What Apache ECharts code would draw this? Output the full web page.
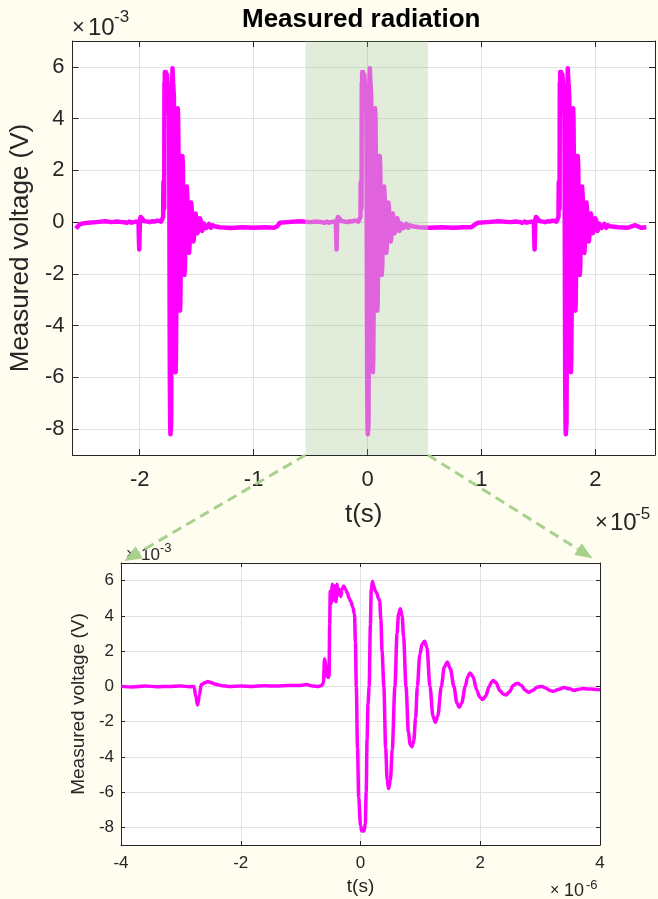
<!DOCTYPE html>
<html>
<head>
<meta charset="utf-8">
<script src="https://cdn.jsdelivr.net/npm/echarts@6/dist/echarts.min.js"></script>
<style>
html,body{margin:0;padding:0;background:#fefdf0;}
#chart{width:658px;height:899px;}
</style>
</head>
<body>
<div id="chart"></div>
<script>
// ---------- DATA ----------
// One burst, time relative to burst centre (microseconds), voltage in mV (x10^-3 V)
const burstT = [-4.0,-3.8,-3.6,-3.4,-3.2,-3.0,-2.85,-2.78,-2.75,-2.72,-2.69,-2.66,-2.6,-2.55,-2.5,-2.42,-2.32,-2.2,-2.0,-1.8,-1.6,-1.4,-1.2,-1.0,-0.9,-0.8,-0.7,-0.65,-0.62,-0.6,-0.58,-0.57,-0.555,-0.54,-0.525,-0.515,-0.505,-0.49,-0.47,-0.45,-0.43,-0.41,-0.39,-0.37,-0.35,-0.33,-0.31,-0.28,-0.25,-0.22,-0.19,-0.16,-0.13,-0.1,-0.085,-0.07,-0.05,-0.03,0.0,0.02,0.06,0.08,0.095,0.11,0.125,0.145,0.165,0.18,0.20,0.22,0.25,0.27,0.30,0.32,0.34,0.36,0.39,0.42,0.445,0.47,0.50,0.53,0.575,0.61,0.635,0.665,0.695,0.72,0.76,0.80,0.83,0.86,0.89,0.92,0.95,0.99,1.03,1.07,1.11,1.16,1.21,1.25,1.29,1.35,1.40,1.45,1.50,1.56,1.61,1.65,1.69,1.75,1.79,1.83,1.88,1.94,1.99,2.04,2.09,2.15,2.19,2.22,2.26,2.33,2.38,2.43,2.49,2.55,2.60,2.63,2.68,2.75,2.81,2.88,2.95,3.03,3.10,3.16,3.22,3.30,3.40,3.49,3.57,3.65,3.72,3.79,3.90,4.0];
const burstV = [0.0,-0.03,0.02,-0.02,0.0,0.02,-0.02,0.0,-0.6,-1.06,-0.5,0.1,0.2,0.27,0.22,0.12,0.04,0.0,0.02,0.0,0.03,0.02,0.05,0.05,0.1,0.02,0.0,0.05,0.2,1.55,1.2,0.6,1.1,0.5,0.6,3.5,5.4,4.7,5.8,4.9,5.7,4.8,5.8,5.2,5.5,5.1,5.5,5.7,5.5,5.3,5.0,4.8,4.5,4.1,2.5,0.0,-3.5,-6.3,-7.9,-8.2,-8.2,-7.8,-6.0,-3.0,-1.0,0.0,3.5,5.5,5.95,5.7,5.4,5.3,5.0,4.85,3.8,2.0,0.0,-3.5,-5.3,-5.8,-5.3,-3.6,0.0,3.0,4.1,4.4,4.0,2.8,0.0,-2.6,-3.3,-3.42,-3.1,-1.8,0.0,1.8,2.4,2.56,2.2,0.0,-1.7,-2.04,-1.7,0.0,1.1,1.38,1.0,0.0,-0.95,-1.19,-0.95,0.0,0.55,0.76,0.55,-0.2,-0.6,-0.75,-0.55,0.0,0.25,0.33,0.22,-0.25,-0.43,-0.49,-0.3,0.05,0.15,0.17,0.07,-0.22,-0.34,-0.22,-0.05,0.0,-0.1,-0.23,-0.28,-0.18,-0.07,-0.14,-0.22,-0.16,-0.12,-0.15,-0.16,-0.19];

// Burst centres on the long record (x10^-5 s)
const burstCenters = [-1.732, 0, 1.738];

// Baseline stretches between bursts (time x10^-5 s, voltage mV)
const gap0T = [-2.56,-2.545,-2.53,-2.5,-2.45,-2.38,-2.3,-2.25,-2.2,-2.15];
const gap0V = [-0.25,-0.18,-0.1,-0.05,-0.02,0.0,0.03,0.0,0.02,0.0];
const gap1T = [-1.3,-1.2,-1.1,-1.0,-0.9,-0.82,-0.79,-0.77,-0.7,-0.6,-0.5,-0.45];
const gap1V = [-0.2,-0.23,-0.2,-0.22,-0.2,-0.22,-0.15,-0.02,0.0,0.03,0.0,0.02];
const gap2T = [0.45,0.55,0.65,0.75,0.85,0.91,0.94,0.97,1.05,1.15,1.25,1.3];
const gap2V = [-0.2,-0.22,-0.2,-0.22,-0.2,-0.2,-0.1,-0.02,0.0,0.03,0.0,0.02];
const gap3T = [2.2,2.28,2.35,2.4,2.447];
const gap3V = [-0.2,-0.22,-0.12,-0.22,-0.2];

// Highlighted window on the long record (x10^-5 s)
const shadeRange = [-0.545, 0.53];

// Axis limits / ticks
const topXRange = [-2.59, 2.523];
const topXTicks = [-2, -1, 0, 1, 2];
const yRange = [-9, 7];
const yTicks = [-8, -6, -4, -2, 0, 2, 4, 6];
const botXRange = [-4, 4];
const botXTicks = [-4, -2, 0, 2, 4];

// ---------- BUILD ----------
function zip(t, v) { return t.map((x, i) => [x, v[i]]); }
const gaps = [zip(gap0T, gap0V), zip(gap1T, gap1V), zip(gap2T, gap2V), zip(gap3T, gap3V)];
let topData = [].concat(gaps[0]);
burstCenters.forEach((c, i) => {
  topData = topData.concat(burstT.map((t, j) => [c + t / 10, burstV[j]]));
  topData = topData.concat(gaps[i + 1]);
});
const botData = zip(burstT, burstV);

const FONT = "'Liberation Sans', Arial, Helvetica, sans-serif";
const TXT = '#262626';
const GRID = '#e2e2e2';

function fmt(list) {
  return function (v) {
    for (const t of list) if (Math.abs(v - t) < 1e-9) return String(t);
    return '';
  };
}

function mainAxes(gi, xr, xsplit, xticks, fs, tickLen, xMargin, yMargin, name, nameFs, xGap, yGap) {
  const x = {
    type: 'value', gridIndex: gi, min: xr[0], max: xr[1], splitNumber: xsplit,
    axisLine: { show: true, onZero: false, lineStyle: { color: TXT, width: 1 } },
    axisTick: { show: true, inside: true, length: tickLen, lineStyle: { color: TXT } },
    axisLabel: { formatter: fmt(xticks), color: TXT, fontSize: fs, fontFamily: FONT, margin: xMargin },
    splitLine: { show: true, lineStyle: { color: GRID, width: 1 } },
    name: 't(s)', nameLocation: 'middle', nameGap: xGap,
    nameTextStyle: { color: TXT, fontSize: nameFs, fontFamily: FONT }
  };
  const xTop = {
    type: 'value', gridIndex: gi, position: 'top', min: xr[0], max: xr[1], splitNumber: xsplit,
    axisLine: { show: true, onZero: false, lineStyle: { color: TXT, width: 1 } },
    axisTick: { show: true, inside: true, length: tickLen, lineStyle: { color: TXT } },
    axisLabel: { show: false }, splitLine: { show: false }
  };
  const y = {
    type: 'value', gridIndex: gi, min: yRange[0], max: yRange[1], splitNumber: 8,
    axisLine: { show: true, onZero: false, lineStyle: { color: TXT, width: 1 } },
    axisTick: { show: true, inside: true, length: tickLen, lineStyle: { color: TXT } },
    axisLabel: { formatter: fmt(yTicks), color: TXT, fontSize: fs, fontFamily: FONT, margin: yMargin },
    splitLine: { show: true, lineStyle: { color: GRID, width: 1 } },
    name: name, nameLocation: 'middle', nameGap: yGap,
    nameTextStyle: { color: TXT, fontSize: nameFs, fontFamily: FONT }
  };
  const yRight = {
    type: 'value', gridIndex: gi, position: 'right', min: yRange[0], max: yRange[1], splitNumber: 8,
    axisLine: { show: true, onZero: false, lineStyle: { color: TXT, width: 1 } },
    axisTick: { show: true, inside: true, length: tickLen, lineStyle: { color: TXT } },
    axisLabel: { show: false }, splitLine: { show: false }
  };
  return { x: [x, xTop], y: [y, yRight] };
}

const topAx = mainAxes(0, topXRange, 5, topXTicks, 22, 6, 14, 8, 'Measured voltage (V)', 26, 47, 35);
const botAx = mainAxes(1, botXRange, 4, botXTicks, 17, 4, 10, 7, 'Measured voltage (V)', 19, 32, 31);

function sci(x, y, exp, fsX, fs10, fsE, dx10, dxE, dyE) {
  return [
    { type: 'text', left: x, top: y - fsX / 2, z: 50, style: { text: '×', fontSize: fsX, fontFamily: FONT, fill: TXT } },
    { type: 'text', left: x + dx10, top: y - fs10 / 2, z: 50, style: { text: '10', fontSize: fs10, fontFamily: FONT, fill: TXT } },
    { type: 'text', left: x + dxE, top: y - dyE - fsE / 2, z: 50, style: { text: exp, fontSize: fsE, fontFamily: FONT, fill: TXT } }
  ];
}

const chart = echarts.init(document.getElementById('chart'), null, { renderer: 'canvas' });
const option = {
  backgroundColor: '#fefdf0',
  animation: false,
  grid: [
    { left: 70, top: 41, width: 585, height: 414, show: true, backgroundColor: '#ffffff', borderWidth: 0 },
    { left: 121, top: 563, width: 479, height: 282, show: true, backgroundColor: '#ffffff', borderWidth: 0 }
  ],
  xAxis: [topAx.x[0], topAx.x[1], botAx.x[0], botAx.x[1]],
  yAxis: [topAx.y[0], topAx.y[1], botAx.y[0], botAx.y[1]],
  visualMap: [{
    type: 'piecewise', show: false, dimension: 0, seriesIndex: 1,
    pieces: [{ gt: shadeRange[0], lte: shadeRange[1], color: '#e062dc' }],
    outOfRange: { color: '#ff00ff' }
  }],
  series: [
    {
      type: 'line', xAxisIndex: 0, yAxisIndex: 0, data: [], z: 1, silent: true,
      markArea: { silent: true, itemStyle: { color: 'rgba(140,180,110,0.25)' },
        data: [[{ xAxis: shadeRange[0] }, { xAxis: shadeRange[1] }]] }
    },
    {
      type: 'line', xAxisIndex: 0, yAxisIndex: 0, data: topData, showSymbol: false, z: 3,
      lineStyle: { width: 4.5, join: 'round' }, silent: true
    },
    {
      type: 'line', xAxisIndex: 2, yAxisIndex: 2, data: botData, showSymbol: false, z: 3,
      smooth: 0.3, smoothMonotone: 'x',
      lineStyle: { width: 3.5, color: '#ff00ff', join: 'round' }, itemStyle: { color: '#ff00ff' }, silent: true
    }
  ]
};
chart.setOption(option);

// Annotations: title, exponent labels, zoom arrows
const g = [];
g.push({ type: 'text', left: 362 - 120, top: 7, z: 50,
  style: { text: 'Measured radiation', fontSize: 26, fontWeight: 'bold', fontFamily: FONT, fill: '#000' } });
g.push(...sci(72, 28, '-3', 22, 24, 17, 16, 42, 11));
g.push(...sci(595, 523, '-5', 22, 24, 17, 15, 40, 9));
g.push(...sci(126, 555, '-3', 16, 17, 13, 15, 34, 7));
g.push(...sci(550, 891, '-6', 16, 18, 13, 14, 36, 6));

function arrow(p0, corner, back) {
  const dx = corner[0] - p0[0], dy = corner[1] - p0[1];
  const L = Math.hypot(dx, dy), ux = dx / L, uy = dy / L;
  const tip = [corner[0] - ux * back, corner[1] - uy * back];
  const hl = 17, hw = 7;
  const base = [tip[0] - ux * hl, tip[1] - uy * hl];
  const px = -uy, py = ux;
  return [
    { type: 'line', z: 60, shape: { x1: p0[0], y1: p0[1], x2: base[0], y2: base[1] },
      style: { stroke: '#a9d18e', lineWidth: 3, lineDash: [10, 6] } },
    { type: 'polygon', z: 60, shape: { points: [tip, [base[0] + px * hw, base[1] + py * hw], [base[0] - px * hw, base[1] - py * hw]] },
      style: { fill: '#a9d18e' } }
  ];
}
const sL = chart.convertToPixel({ gridIndex: 0 }, [shadeRange[0], yRange[0]]);
const sR = chart.convertToPixel({ gridIndex: 0 }, [shadeRange[1], yRange[0]]);
const cL = chart.convertToPixel({ gridIndex: 1 }, [botXRange[0], yRange[1]]);
const cR = chart.convertToPixel({ gridIndex: 1 }, [botXRange[1], yRange[1]]);
g.push(...arrow(sL, cL, 4));
g.push(...arrow(sR, cR, 9));
chart.setOption({ graphic: g });
</script>
</body>
</html>
